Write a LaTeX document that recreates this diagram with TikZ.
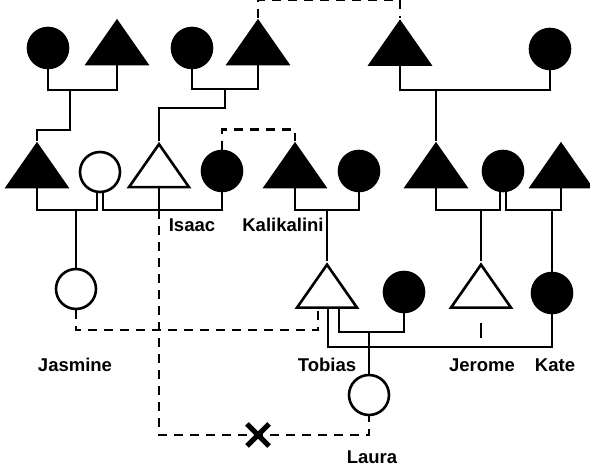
\documentclass[tikz,border=0pt]{standalone}
\usepackage{fontspec}
\setmainfont{Liberation Sans}
\usetikzlibrary{shapes.geometric,shapes.misc}
\begin{document}
\begin{tikzpicture}[x=1pt, y=-1pt, line width=2.6pt,
    female/.style={shape=circle, draw=black, minimum size=40pt, inner sep=0pt},
    male/.style={shape=isosceles triangle, isosceles triangle stretches, shape border rotate=90,
        draw=black, minimum width=60pt, minimum height=43pt, inner sep=0pt},
    dead/.style={fill=black},
    alive/.style={fill=white},
    link/.style={dash pattern=on 9pt off 7pt},
    kinname/.style={font=\fontsize{18.5}{20}\selectfont\bfseries}]
    \useasboundingbox (0,0) rectangle (590,470);

    % grandparents
    \node[female, dead] (G1) at (48, 48) {};
    \node[male, dead] (G2) at (117, 48.5) {};
    \node[female, dead] (G3) at (192, 48) {};
    \node[male, dead] (G4) at (258, 48.5) {};
    \node[male, dead] (G5) at (400, 49) {};
    \node[female, dead] (G6) at (550, 49) {};

    % parents
    \node[male, dead] (P1) at (37, 171.5) {};
    \node[female, alive] (P2) at (100, 172) {};
    \node[male, alive] (Isaac) at (159, 171.5) {};
    \node[female, dead] (P4) at (222, 171) {};
    \node[male, dead] (Kali) at (295, 171.5) {};
    \node[female, dead] (P6) at (359, 171) {};
    \node[male, dead] (P7) at (436, 171.5) {};
    \node[female, dead] (P8) at (503, 171) {};
    \node[male, dead] (P9) at (561, 171.5) {};

    % children
    \node[female, alive] (Jasmine) at (76, 289) {};
    \node[male, alive] (Tobias) at (327, 292) {};
    \node[female, dead] (P12) at (404, 292) {};
    \node[male, alive] (Jerome) at (481, 292) {};
    \node[female, dead] (Kate) at (552, 293) {};
    \node[female, alive] (Laura) at (369, 395) {};

    \coordinate (M1) at (70, 90);
    \coordinate (M2) at (225, 89);
    \coordinate (M3) at (436, 90);
    \coordinate (M4) at (76, 210);
    \coordinate (M5) at (159, 210);
    \coordinate (M7) at (327, 210);
    \coordinate (M8) at (481, 210);
    \coordinate (M9) at (552, 210);
    \coordinate (M10) at (318, 330);
    \coordinate (M11) at (369, 332);
    \coordinate (M12) at (440, 347);
    \coordinate (M13) at (369, 435);
    \coordinate (J1) at (481, 323);
    \coordinate (J2) at (481, 338);

    \draw (G1.south) |- (M1) -| (G2.south);
    \draw (M1) -- ++(0, 40) -| (P1.north);
    \draw (G3.south) |- (M2) -| (G4.south);
    \draw (M2) -- ++(0, 19) -| (Isaac.north);
    \draw (G5.south) |- (M3) -| (G6.south);
    \draw (M3) -- (P7.north);
    \draw[link] (G4.north) -- ++(0, -18) -| (G5.north);

    \draw (P1.south) |- (M4) -| ([xshift=-3pt]P2.south);
    \draw (M4) -- (Jasmine.north);
    \draw ([xshift=3pt]P2.south) |- (M5) -| (P4.south);
    \draw (Isaac.south) -- (M5);
    \draw[link] (P4.north) -- ++(0, -20) -| (Kali.north);
    \draw (Kali.south) |- (M7) -| (P6.south);
    \draw (M7) -- (Tobias.north);
    \draw (P7.south) |- (M8) -| ([xshift=-3pt]P8.south);
    \draw (M8) -- (Jerome.north);
    \draw ([xshift=3pt]P8.south) |- (M9) -| (P9.south);
    \draw (M9) -- (Kate.north);

    \draw[link] (Jasmine.south) |- (M10) -- ([xshift=-9pt]Tobias.south);
    \draw ([xshift=12pt]Tobias.south) |- (M11) -| (P12.south);
    \draw (M11) -- (Laura.north);
    \draw ([xshift=1pt]Tobias.south) |- (M12) -| (Kate.south);
    \draw (J1) -- (J2);
    \draw[link] (M5) |- (M13) -- (Laura.south);
    \node[shape=cross out, draw=black, line width=5pt, minimum size=17pt] (cut) at (258, 435) {};

    \node[kinname] at (192, 225) {Isaac};
    \node[kinname] at (283, 225) {Kalikalini};
    \node[kinname] at (75, 365) {Jasmine};
    \node[kinname] at (327, 365) {Tobias};
    \node[kinname] at (482, 365) {Jerome};
    \node[kinname] at (555, 365) {Kate};
    \node[kinname] at (372, 457) {Laura};
\end{tikzpicture}
\end{document}
